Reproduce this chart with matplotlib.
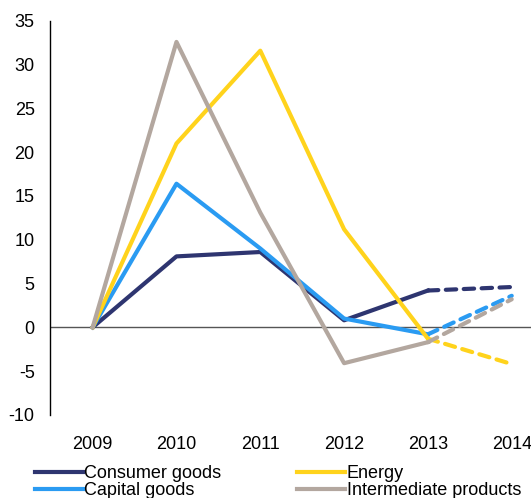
import matplotlib.pyplot as plt

plt.rcParams['font.family'] = ['Liberation Sans', 'DejaVu Sans']
plt.rcParams['axes.unicode_minus'] = False

years = ['2009', '2010', '2011', '2012', '2013', '2014']
consumer = [0, 8.1, 8.6, 0.8, 4.2, 4.6]
capital = [0, 16.4, 9.0, 1.0, -0.8, 3.6]
energy = [0, 21.0, 31.6, 11.2, -1.3, -4.2]
intermediate = [0, 32.6, 13.1, -4.1, -1.7, 3.2]

series = [
    ('Consumer goods', consumer, '#2e3570'),
    ('Capital goods', capital, '#2a9bf2'),
    ('Energy', energy, '#ffd31c'),
    ('Intermediate products', intermediate, '#b3a79f'),
]

fig = plt.figure(figsize=(5.31, 4.98), dpi=100)
ax = fig.add_axes([0.094, 0.167, 0.906, 0.791])

x = list(range(len(years)))
handles = []
for name, vals, col in series:
    # solid up to 2013, dashed forecast to 2014
    h, = ax.plot(x[:5], vals[:5], color=col, lw=3, label=name, zorder=3)
    ax.plot(x[4:], vals[4:], color=col, lw=3, linestyle=(0, (2.5, 1.8)),
            dash_capstyle='round', zorder=3)
    handles.append(h)

ax.axhline(0, color='#555555', lw=1, zorder=2)

ax.set_ylim(-10, 35)
ax.set_yticks(range(-10, 40, 5))
ax.set_xlim(-0.51, 5.23)
ax.set_xticks(x)
ax.set_xticklabels(years)
ax.tick_params(axis='both', length=0, labelsize=13)
ax.tick_params(axis='x', pad=15)
ax.tick_params(axis='y', pad=11)
for s in ['top', 'right', 'bottom']:
    ax.spines[s].set_visible(False)
ax.spines['left'].set_linewidth(1)

fig.legend(handles=handles, loc='lower left', bbox_to_anchor=(0.045, -0.024),
           ncol=2, frameon=False, fontsize=13, handlelength=2.65,
           handletextpad=0.1, columnspacing=4.2, labelspacing=0.0,
           borderpad=0.1)

plt.savefig('out.png', dpi=100)
